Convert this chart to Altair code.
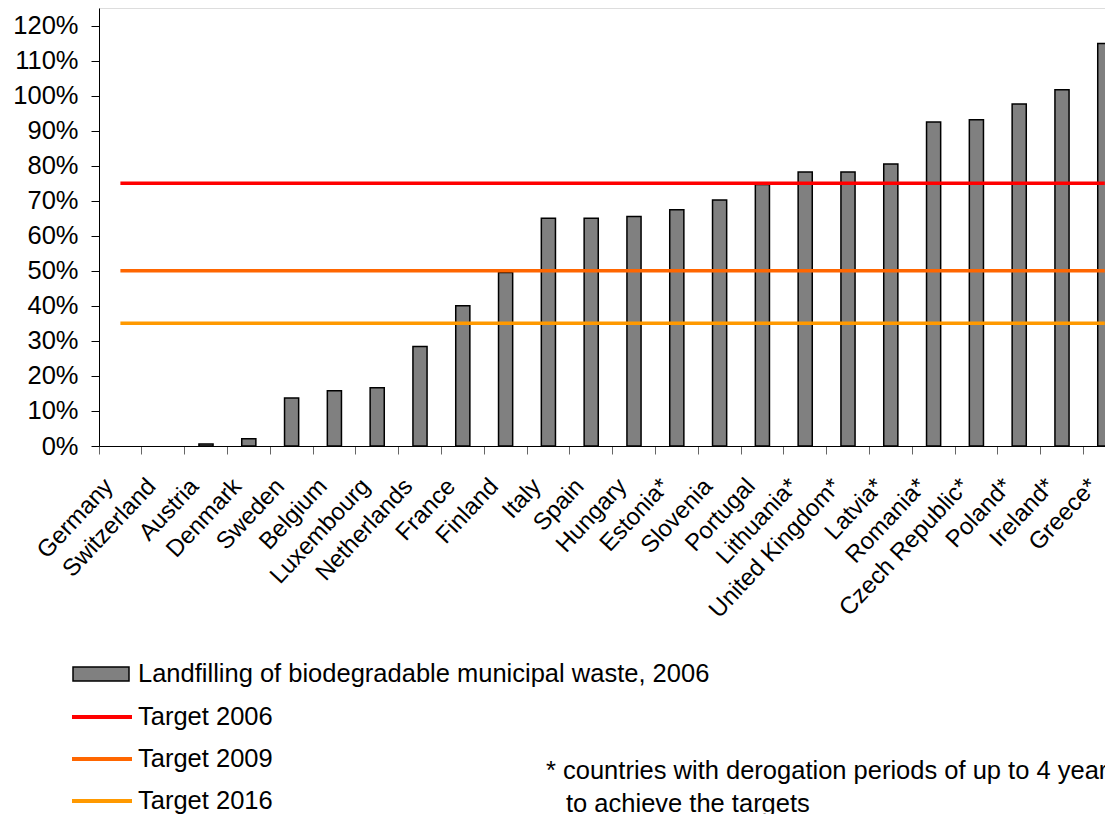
import altair as alt
import pandas as pd

countries = ["Germany", "Switzerland", "Austria", "Denmark", "Sweden", "Belgium",
             "Luxembourg", "Netherlands", "France", "Finland", "Italy", "Spain",
             "Hungary", "Estonia*", "Slovenia", "Portugal", "Lithuania*",
             "United Kingdom*", "Latvia*", "Romania*", "Czech Republic*",
             "Poland*", "Ireland*", "Greece*"]
landfill = [None, None, 0.6, 2.1, 13.7, 15.8, 16.6, 28.4, 40.0, 49.5, 65.0, 65.0,
            65.5, 67.4, 70.2, 74.6, 78.2, 78.2, 80.5, 92.5, 93.1, 97.6, 101.7, 114.9]
bar_series = "Landfilling of biodegradable municipal waste, 2006"
target_names = ["Target 2006", "Target 2009", "Target 2016"]
target_values = [75, 50, 35]
target_colors = ["#FF0000", "#FF6600", "#FF9900"]
y_ticks = [0, 10, 20, 30, 40, 50, 60, 70, 80, 90, 100, 110, 120]
note_lines = ["* countries with derogation periods of up to 4 years",
              "to achieve the targets"]

FONT = "Liberation Sans"
FS = 25.5
FS_X = 24

bars_df = pd.DataFrame({"country": countries, "value": landfill, "series": bar_series})
bars_df = bars_df.dropna()

rows = []
for name, val in zip(target_names, target_values):
    for c in countries:
        rows.append({"country": c, "value": val, "target": name})
lines_df = pd.DataFrame(rows)

x_scale = alt.Scale(domain=countries, paddingInner=0, paddingOuter=0)
y_scale = alt.Scale(domain=[0, 125], nice=False)

x_axis = alt.Axis(title=None, bandPosition=0, labelAngle=-47, labelAlign="right",
                  labelBaseline="top", labelOffset=-20, labelPadding=20, tickSize=8,
                  tickColor="#666666", domainColor="#000000", labelFontSize=FS_X,
                  labelFont=FONT, labelColor="#000000", labelOverlap=False,
                  labelBound=False, labelLimit=0, grid=False)
y_axis = alt.Axis(title=None, values=y_ticks, labelExpr="datum.value + '%'",
                  tickSize=8, labelPadding=13, grid=False, domainColor="#000000",
                  tickColor="#000000", labelFontSize=FS, labelFont=FONT,
                  labelColor="#000000")

bars = alt.Chart(bars_df).mark_bar(
    width=alt.RelativeBandSize(0.33), stroke="#000000", strokeWidth=1.5
).encode(
    x=alt.X("country:N", sort=countries, scale=x_scale, axis=x_axis),
    y=alt.Y("value:Q", scale=y_scale, axis=y_axis),
    fill=alt.Fill("series:N", scale=alt.Scale(domain=[bar_series], range=["#808080"]),
                  legend=alt.Legend(orient="none", legendX=-27, legendY=637, title=None,
                                    padding=0,
                                    symbolType="M-1,-0.25L1,-0.25L1,0.25L-1,0.25Z",
                                    symbolSize=3136, symbolStrokeColor="#000000",
                                    symbolStrokeWidth=1.5, symbolOpacity=1,
                                    labelFontSize=FS, labelFont=FONT,
                                    labelColor="#000000", labelOffset=8,
                                    labelLimit=0)),
)

lines = alt.Chart(lines_df).mark_line(strokeWidth=3.5).encode(
    x=alt.X("country:N", sort=countries, scale=x_scale, axis=x_axis),
    y=alt.Y("value:Q", scale=y_scale, axis=y_axis),
    stroke=alt.Stroke("target:N", scale=alt.Scale(domain=target_names, range=target_colors),
                      legend=alt.Legend(orient="none", legendX=-29, legendY=692, title=None,
                                        padding=0, symbolType="M-1,0L3,0", symbolSize=900,
                                        symbolStrokeWidth=4, labelFontSize=FS,
                                        labelFont=FONT, labelColor="#000000",
                                        labelOffset=34, rowPadding=11, labelLimit=0)),
)

note1 = alt.Chart(pd.DataFrame({"t": [note_lines[0]]})).mark_text(
    align="left", baseline="middle", fontSize=FS, font=FONT, color="#000000"
).encode(text="t:N", x=alt.value(447), y=alt.value(763))

note2 = alt.Chart(pd.DataFrame({"t": [note_lines[1]]})).mark_text(
    align="left", baseline="middle", fontSize=FS, font=FONT, color="#000000"
).encode(text="t:N", x=alt.value(467), y=alt.value(796))

chart = alt.layer(bars, lines, note1, note2).properties(
    width=1027.2, height=438,
    autosize=alt.AutoSizeParams(type="none"),
    padding={"left": 91, "top": 0, "right": -21.2, "bottom": 368},
).configure_view(stroke=None).configure(font=FONT)

chart.save("out.html", embed_options={"renderer": "svg", "actions": False})
